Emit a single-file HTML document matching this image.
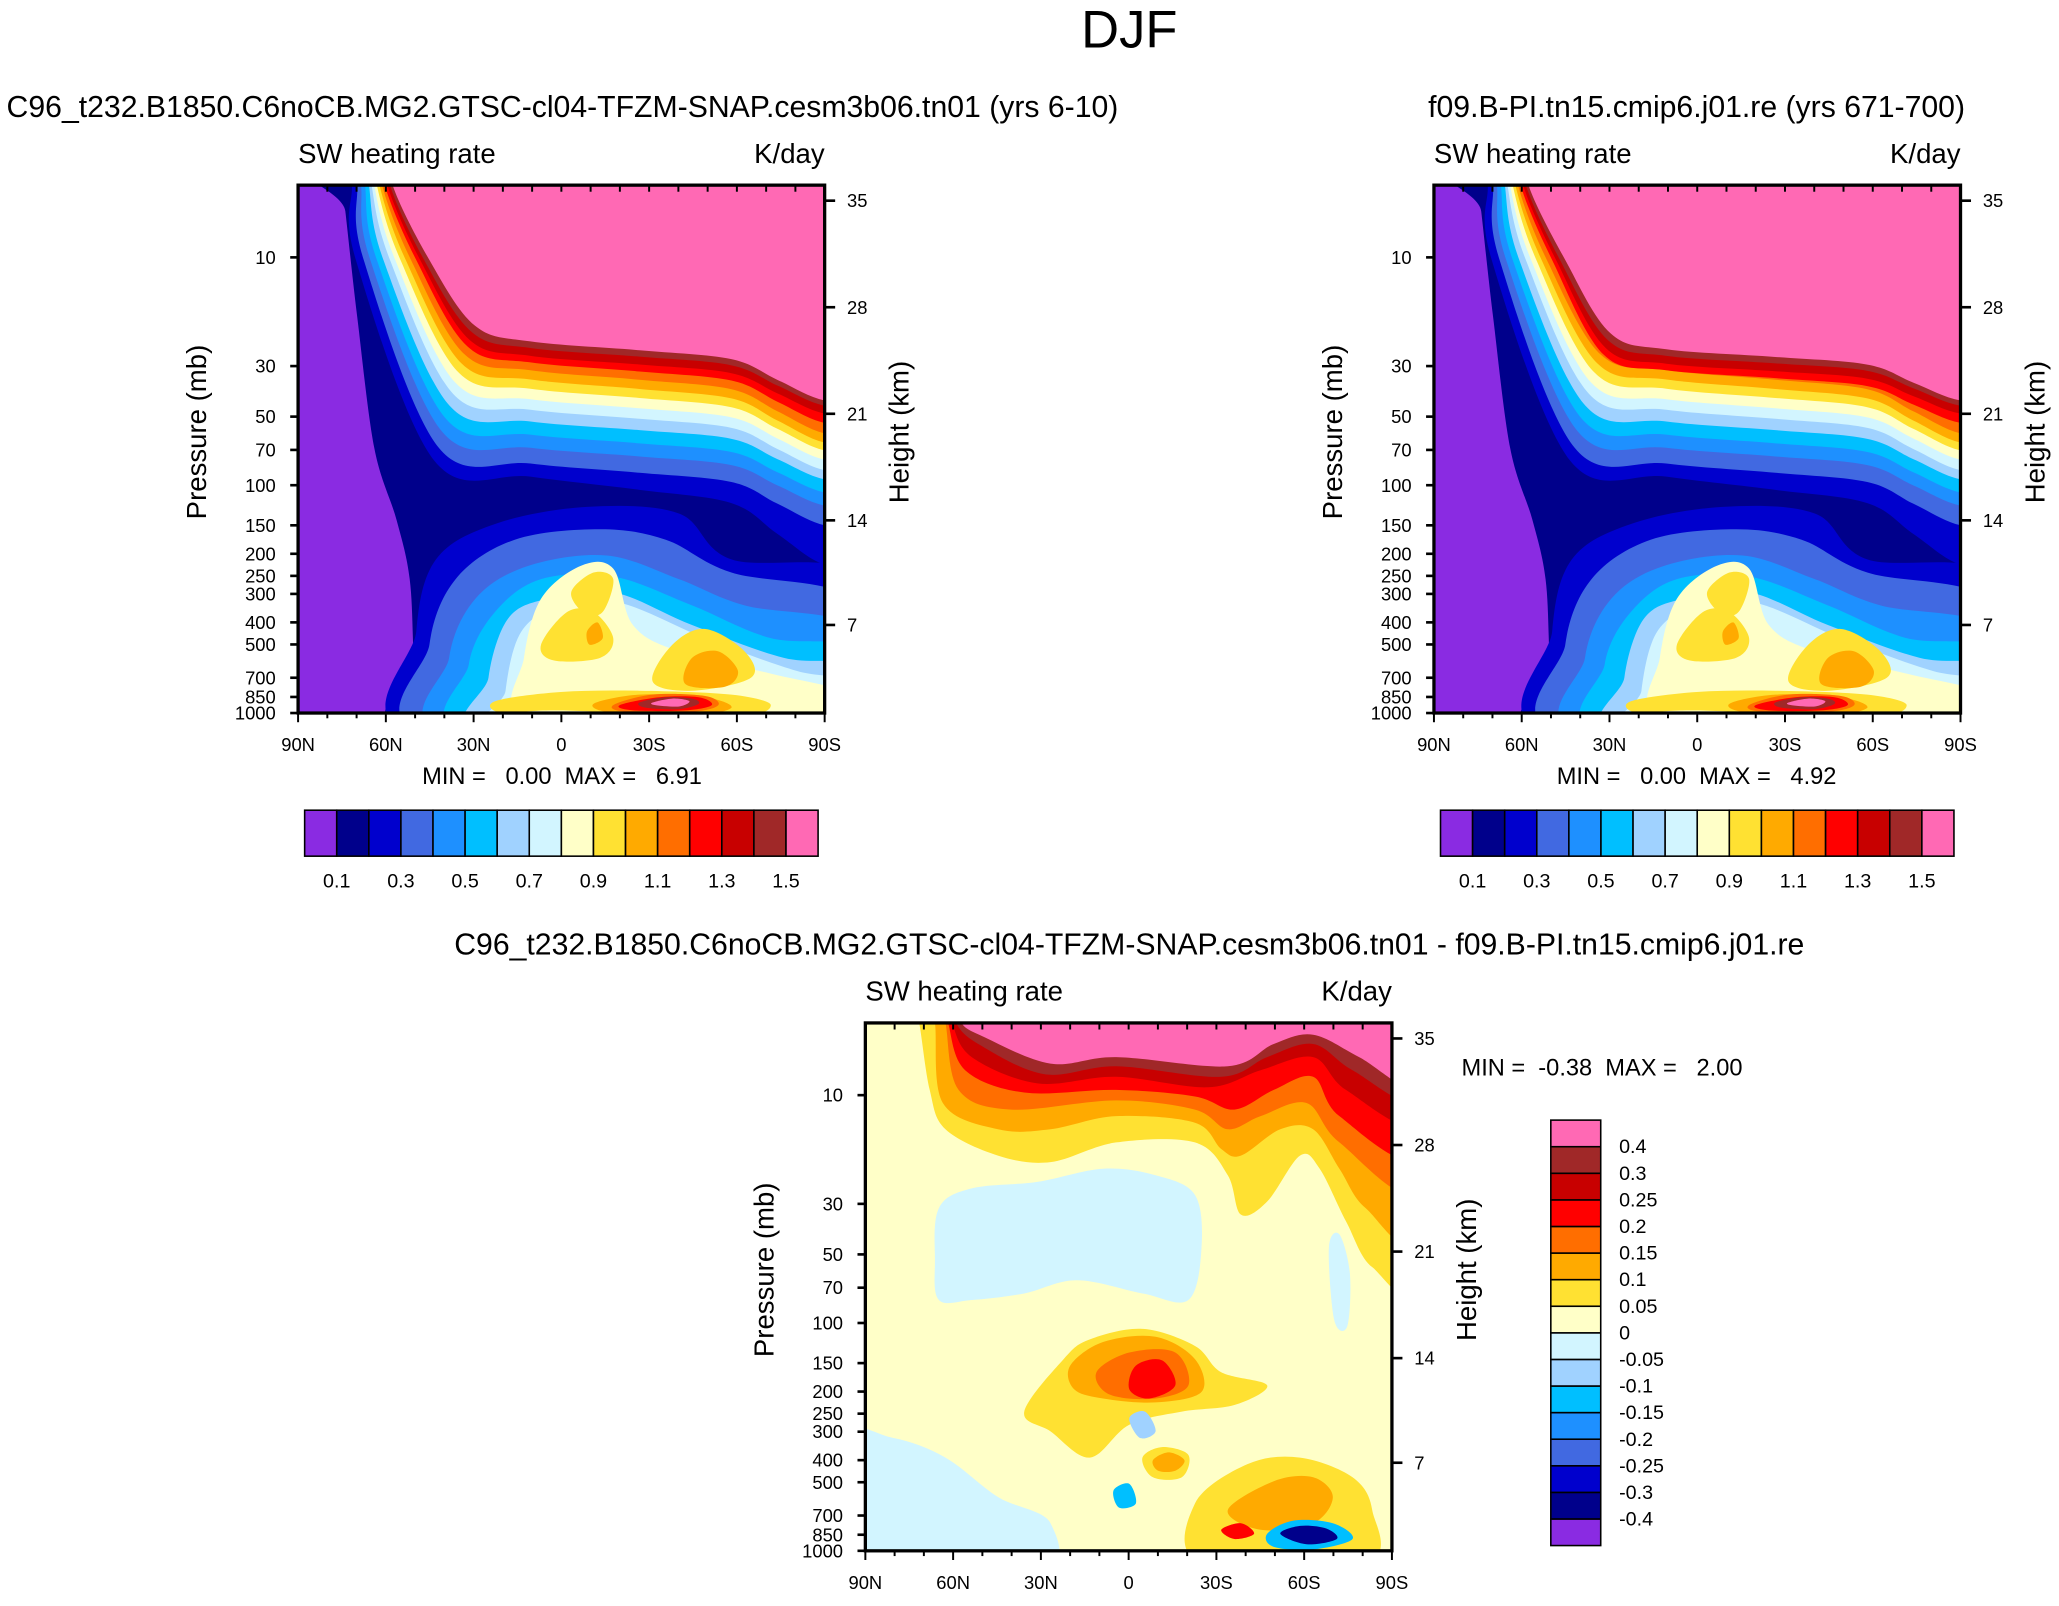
<!DOCTYPE html>
<html><head><meta charset="utf-8">
<style>
html,body{margin:0;padding:0;background:#fff;width:2059px;height:1599px;overflow:hidden}
#wrap{position:absolute;left:0;top:0;width:1568px;height:1218px;transform:scale(1.31314);transform-origin:0 0}
svg text{font-family:"Liberation Sans",Arial,sans-serif;fill:#000;white-space:pre}
</style></head><body>
<div id="wrap">
<svg id="svg" width="1568" height="1218" viewBox="0 0 1568 1218">
<defs>
<clipPath id="c1"><rect x="227" y="141" width="401" height="402"/></clipPath>
<clipPath id="c2"><rect x="1092" y="141" width="401" height="402"/></clipPath>
<clipPath id="c3"><rect x="659" y="779" width="401" height="402"/></clipPath>
</defs>
<text x="860" y="36" font-size="40" text-anchor="middle">DJF</text>
<g id="p1fill" clip-path="url(#c1)"></g>
<g id="p2fill" clip-path="url(#c2)"></g>
<g id="p3fill" clip-path="url(#c3)"></g>
<g id="axes"></g>
</svg>
</div>
<script>
const palette=["#8a2be2","#00008b","#0000cd","#4169e1","#1e90ff","#00bfff","#a0d2ff","#d2f5ff","#ffffc8","#ffe132","#ffaa00","#ff6e00","#ff0000","#c80000","#a02828","#ff69b4"];
const levels12=["0.1","0.2","0.3","0.4","0.5","0.6","0.7","0.8","0.9","1.0","1.1","1.2","1.3","1.4","1.5"];
const levels3=["-0.4","-0.3","-0.25","-0.2","-0.15","-0.1","-0.05","0","0.05","0.1","0.15","0.2","0.25","0.3","0.4"];
const pTicks=[10,30,50,70,100,150,200,250,300,400,500,700,850,1000];
const zTicks=[35,28,21,14,7];
const latTicks=["90N","60N","30N","0","30S","60S","90S"];
const latVals=[90,60,30,0,-30,-60,-90];
const minmax1=["0.00","6.91"],minmax2=["0.00","4.92"],minmax3=["-0.38","2.00"];
// upper stratospheric contour params for levels 0.2..1.5 (panel px): x at top, x at y=57, y at x=177, y at right edge
const upTop=[41,45,48,51,54,56,58,60,62,64,66,68,70,72];
const upX57=[44,50,55,60,65,70,74,78,82,86,90,93,96,100];
const upMid=[222,212,200,190,180,171,163,155,148,141,135,130,124,119];
const upRight=[289,259,244,234,224,217,209,202,196,189,181,174,168,164];

const NS="http://www.w3.org/2000/svg";
const svg=document.getElementById('svg');
function el(tag,attrs,parent){const e=document.createElementNS(NS,tag);for(const k in attrs)e.setAttribute(k,attrs[k]);(parent||svg).appendChild(e);return e;}
function yP(p,top){return top+402-(3-Math.log10(p))*173.5;}
function zToP(z){return z<11?1013.25*Math.pow(1-z/44.33,5.256):226.3*Math.exp(-(z-11)/6.5);}
function xL(lat,left){return left+(90-lat)/180*401;}
function smooth(pts){let d="M"+pts[0][0]+","+pts[0][1];const n=pts.length;
 for(let i=0;i<n;i++){const p0=pts[(i-1+n)%n],p1=pts[i],p2=pts[(i+1)%n],p3=pts[(i+2)%n];
  d+=" C"+(p1[0]+(p2[0]-p0[0])/6).toFixed(1)+","+(p1[1]+(p2[1]-p0[1])/6).toFixed(1)+" "+(p2[0]-(p3[0]-p1[0])/6).toFixed(1)+","+(p2[1]-(p3[1]-p1[1])/6).toFixed(1)+" "+p2[0]+","+p2[1];}
 return d+"Z";}
function blob(g,pts,col,ox,oy,name){const e=el('path',{d:smooth(pts.map(p=>[p[0]+ox,p[1]+oy])),fill:col},g);
 
 return e;}

function drawTop(g,ox,oy,v){
 el('rect',{x:ox,y:oy,width:401,height:402,fill:palette[0]},g);
 blob(g,[[31,-20],[420,-20],[420,420],[91,420],[88,360],[85,300],[75,255],[58,200],[45,100],[36,20]],palette[1],ox,oy,'region-0.1');
 for(let i=0;i<upTop.length;i++){
  const k=i+2,t=upTop[i],xs=upX57[i],m=upMid[i]+(v&&i>9?6:0),r=upRight[i];
  const pts=[[t-1,-30],[t,0],[xs,57],[xs+(177-xs)*0.45,m-12],[177,m],[260,m+(r-m)*0.15],[330,m+(r-m)*0.3],[365,m+(r-m)*0.65],[401,r],[440,r],[440,-30]];
  blob(g,pts,palette[Math.min(k,15)],ox,oy,'upper-band-'+levels12[k-1]);
 }
 const L=[
  [2,[[93,420],[90,340],[105,285],[150,258],[220,245],[290,250],[330,285],[430,300],[430,420]]],
  [3,[[103,420],[100,350],[120,300],[165,270],[230,262],[280,270],[330,295],[430,320],[430,420]]],
  [4,[[120,420],[115,360],[135,315],[175,290],[235,282],[290,300],[340,320],[430,340],[430,420]]],
  [5,[[135,420],[130,365],[150,325],[185,300],[240,298],[300,320],[360,345],[430,355],[430,420]]],
  [6,[[148,420],[145,375],[160,330],[190,315],[240,310],[300,335],[370,360],[430,368],[430,420]]],
  [7,[[160,420],[158,385],[170,340],[200,320],[245,318],[310,345],[380,370],[430,380],[430,420]]],
  [8,[[172,405],[172,360],[185,315],[215,290],[240,292],[255,335],[290,355],[360,372],[430,390],[430,415],[380,410],[300,400]]],
  [9,[[208,310],[225,295],[240,300],[232,325],[218,326]]],
  [9,[[185,350],[205,325],[225,325],[240,345],[230,360],[195,362]]],
  [9,[[285,350],[310,338],[340,355],[345,375],[300,385],[270,378]]],
  [9,[[150,393],[200,386],[260,385],[330,388],[360,396],[330,405],[200,400],[155,402]]],
  [10,[[220,340],[228,333],[232,345],[222,350]]],
  [10,[[300,360],[320,355],[335,370],[325,382],[295,380]]],
  [10,[[225,395],[260,388],[310,390],[330,398],[300,404],[240,402]]],
  [11,[[240,396],[270,388],[310,389],[320,396],[300,401],[250,401]]],
  [12,[[245,396],[275,390],[305,390],[315,396],[295,400],[255,400]]],
  [14,[[260,394],[280,390],[300,391],[305,395],[290,399],[265,398]]],
  [15,[[270,394],[285,391],[298,393],[290,397],[272,396]]]
 ];
 L.forEach(b=>blob(g,b[1],palette[b[0]],ox,oy,'lower-region-'+levels12[b[0]-1]));
}
drawTop(document.getElementById('p1fill'),227,141,false);
drawTop(document.getElementById('p2fill'),1092,141,true);

const g3=document.getElementById('p3fill');
el('rect',{x:659,y:779,width:401,height:402,fill:palette[8]},g3);
const P3=[
 [7,[[712,960],[715,920],[740,905],[790,900],[840,890],[880,895],[910,910],[915,950],[905,990],[870,985],[820,975],[780,985],[740,990],[715,990]]],
 [7,[[1012,950],[1020,940],[1028,970],[1026,1010],[1016,1005]]],
 [7,[[640,1095],[680,1095],[720,1110],[760,1140],[800,1160],[790,1200],[640,1200]]],
 [9,[[695,760],[700,779],[708,830],[720,860],[760,880],[800,885],[850,870],[910,870],[935,895],[945,925],[965,915],[990,880],[1005,890],[1025,930],[1045,965],[1080,972],[1080,760]]],
 [10,[[707,760],[712,779],[718,840],[760,860],[800,860],[850,850],[910,855],[930,875],[945,880],[975,860],[1000,860],[1020,890],[1040,920],[1080,940],[1080,760]]],
 [11,[[715,760],[720,779],[730,830],[770,845],[850,838],[910,845],[935,860],[960,850],[995,840],[1020,870],[1080,905],[1080,760]]],
 [12,[[718,760],[722,779],[735,815],[780,832],[850,830],[910,835],[940,845],[970,830],[1000,820],[1020,850],[1080,880],[1080,760]]],
 [13,[[721,760],[725,779],[740,805],[790,825],[850,820],[920,828],[960,815],[1000,805],[1025,830],[1080,855],[1080,760]]],
 [14,[[724,760],[728,779],[745,795],[795,818],[850,812],[930,820],[965,805],[1000,795],[1030,815],[1080,838],[1080,760]]],
 [15,[[728,760],[732,779],[750,790],[800,810],[850,805],[935,812],[970,795],[1000,788],[1035,805],[1080,828],[1080,760]]],
 [9,[[780,1075],[810,1035],[830,1020],[870,1012],[910,1025],[930,1045],[965,1055],[940,1070],[900,1075],[860,1085],[830,1110],[800,1090]]],
 [10,[[815,1040],[840,1022],[880,1018],[910,1035],[915,1060],[880,1068],[840,1065],[818,1058]]],
 [11,[[835,1045],[860,1030],[895,1030],[905,1055],[880,1065],[845,1062]]],
 [12,[[865,1040],[885,1036],[895,1055],[875,1065],[860,1058]]],
 [9,[[910,1145],[950,1115],[990,1110],[1030,1125],[1045,1150],[1040,1190],[915,1190]]],
 [10,[[935,1150],[970,1128],[1000,1125],[1015,1140],[1000,1160],[960,1165]]],
 [9,[[870,1110],[885,1102],[905,1108],[900,1125],[878,1125]]],
 [10,[[878,1112],[890,1106],[902,1112],[895,1120],[882,1120]]],
 [6,[[860,1080],[872,1075],[880,1090],[868,1095]]],
 [5,[[848,1135],[860,1130],[865,1145],[852,1148]]],
 [12,[[930,1165],[945,1160],[955,1168],[940,1172]]],
 [5,[[965,1168],[985,1158],[1015,1160],[1030,1172],[1000,1180],[970,1178]]],
 [1,[[975,1168],[990,1162],[1010,1164],[1018,1172],[995,1176]]]
];
P3.forEach(b=>blob(g3,b[1],palette[b[0]],0,0,'diff-region-'+(b[0]>=8?levels3[b[0]-1]:levels3[b[0]])));

const ax=document.getElementById('axes');
function panelAxes(left,top,subtitle,subX,subAnchor,mm,mmX,mmY,mmAnchor,tag){
 let e=el('text',{x:subX,y:top-52,'font-size':23,'text-anchor':subAnchor},ax);e.textContent=subtitle;
 
 
 e=el('text',{x:left,y:top-17,'font-size':21},ax);e.textContent="SW heating rate";
 
 
 e=el('text',{x:left+401,y:top-17,'font-size':21,'text-anchor':'end'},ax);e.textContent="K/day";
 
 
 e=el('rect',{x:left,y:top,width:401,height:402,fill:'none',stroke:'#000','stroke-width':2.5},ax);
 
 
 pTicks.forEach(p=>{const y=yP(p,top);el('line',{x1:left-6,x2:left,y1:y,y2:y,stroke:'#000','stroke-width':2},ax);
  const t=el('text',{x:left-17,y:y+5,'font-size':14,'text-anchor':'end'},ax);t.textContent=p;
  
  });
 zTicks.forEach(z=>{const y=yP(zToP(z),top);el('line',{x1:left+401,x2:left+409,y1:y,y2:y,stroke:'#000','stroke-width':2},ax);
  const t=el('text',{x:left+418,y:y+5,'font-size':14},ax);t.textContent=z;
  
  });
 for(let lat=90;lat>=-90;lat-=10){const x=xL(lat,left);el('line',{x1:x,x2:x,y1:top,y2:top+5,stroke:'#000','stroke-width':1.5},ax);
  el('line',{x1:x,x2:x,y1:top+402,y2:top+(lat%30==0?409:406),stroke:'#000','stroke-width':1.5},ax);}
 latTicks.forEach((s,i)=>{const t=el('text',{x:xL(latVals[i],left),y:top+431,'font-size':14,'text-anchor':'middle'},ax);t.textContent=s;
  
  });
 e=el('text',{x:0,y:0,'font-size':21,'text-anchor':'middle',transform:`translate(${left-70},${top+188}) rotate(-90)`},ax);e.textContent="Pressure (mb)";
 
 
 e=el('text',{x:0,y:0,'font-size':21,'text-anchor':'middle',transform:`translate(${left+465},${top+188}) rotate(-90)`},ax);e.textContent="Height (km)";
 
 
 e=el('text',{x:mmX,y:mmY,'font-size':18,'text-anchor':mmAnchor},ax);e.textContent="MIN = "+(mm[0].startsWith('-')?" ":"  ")+mm[0]+"  MAX = "+(mm[1].length<5?"  ":" ")+mm[1];
 
 
}
panelAxes(227,141,"C96_t232.B1850.C6noCB.MG2.GTSC-cl04-TFZM-SNAP.cesm3b06.tn01 (yrs 6-10)",5,'start',minmax1,428,597,'middle','panel1');
panelAxes(1092,141,"f09.B-PI.tn15.cmip6.j01.re (yrs 671-700)",1292,'middle',minmax2,1292,597,'middle','panel2');
panelAxes(659,779,"C96_t232.B1850.C6noCB.MG2.GTSC-cl04-TFZM-SNAP.cesm3b06.tn01 - f09.B-PI.tn15.cmip6.j01.re",860,'middle',minmax3,1113,819,'start','panel3');

function hbar(x0,tag){const w=391/16;
 palette.forEach((c,i)=>{const r=el('rect',{x:x0+i*w,y:617,width:w,height:35,fill:c,stroke:'#000','stroke-width':1.2},ax);
  
  });
 levels12.forEach((s,i)=>{if(i%2)return;const t=el('text',{x:x0+(i+1)*w,y:676,'font-size':15,'text-anchor':'middle'},ax);t.textContent=s;
  
  });}
hbar(232,'panel1');hbar(1097,'panel2');
(function(){const h=324/16;
 palette.forEach((c,i)=>{const r=el('rect',{x:1181,y:1177-(i+1)*h,width:38,height:h,fill:c,stroke:'#000','stroke-width':1.2},ax);
  
  });
 levels3.forEach((s,i)=>{const t=el('text',{x:1233,y:1177-(i+1)*h+5,'font-size':15},ax);t.textContent=s;
  
  });})();
</script>
</body></html>
